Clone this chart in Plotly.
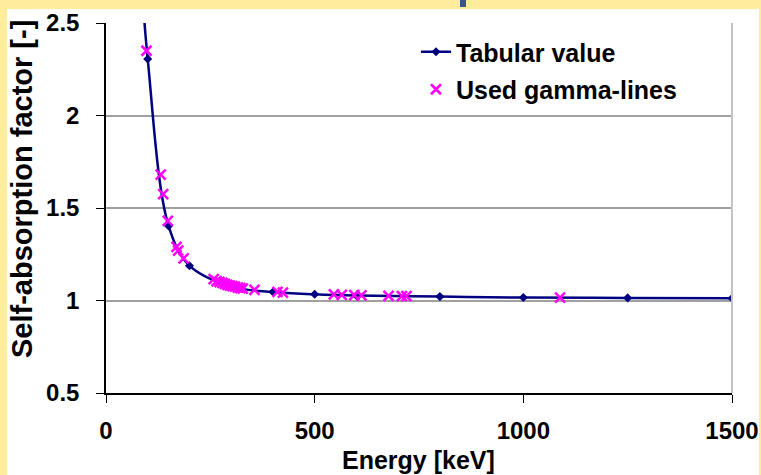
import plotly.graph_objects as go

# Tabulated self-absorption factors
energy_tab = [80, 100, 150, 200, 300, 400, 500, 600, 800, 1000, 1250, 1500]
factor_tab = [2.9, 2.305, 1.403, 1.188, 1.075, 1.046, 1.034, 1.027, 1.021, 1.016, 1.014, 1.012]

# Gamma lines used in the analysis
energy_gamma = [97, 131, 137, 148, 169, 173, 186,
                258, 265, 272, 279, 285, 291, 297, 303, 309, 316, 322, 328,
                356, 411, 424, 546, 565, 595, 612, 677, 709, 720, 1088]
factor_gamma = [2.35, 1.68, 1.575, 1.43, 1.29, 1.27, 1.228,
                1.115, 1.105, 1.10, 1.095, 1.09, 1.085, 1.08, 1.078, 1.075, 1.07, 1.067, 1.064,
                1.058, 1.046, 1.043, 1.033, 1.031, 1.029, 1.028, 1.025, 1.024, 1.024, 1.016]

x_ticks = [0, 500, 1000, 1500]
y_ticks = [0.5, 1, 1.5, 2, 2.5]

FONT = "Liberation Sans, Arial, sans-serif"
NAVY = "#000080"
MAGENTA = "#FF00FF"
YELLOW = "#FFEC9C"

fig = go.Figure()

fig.add_trace(go.Scatter(
    x=energy_tab, y=factor_tab, name="Tabular value",
    mode="lines+markers", legendgroup="tab",
    line=dict(color=NAVY, width=2.5, shape="spline", smoothing=1.0),
    marker=dict(symbol="diamond", size=7, color=NAVY),
))

fig.add_trace(go.Scatter(
    x=energy_gamma, y=factor_gamma, name="Used gamma-lines",
    mode="markers", legendgroup="gamma",
    marker=dict(symbol="x-thin", size=10, color=MAGENTA,
                line=dict(color=MAGENTA, width=2.5)),
))

W, H = 761, 475
L, R, T, B = 106, 29, 23, 82
pw, ph = W - L - R, H - T - B


def px_x(p):
    return (p - L) / pw


def px_y(p):
    return (H - B - p) / ph


fig.update_layout(
    width=W, height=H,
    margin=dict(l=L, r=R, t=T, b=B, pad=0, autoexpand=False),
    paper_bgcolor=YELLOW,
    plot_bgcolor="white",
    font=dict(family=FONT, color="black"),
    showlegend=True,
    legend=dict(
        x=px_x(416), y=px_y(29), xanchor="left", yanchor="top",
        bgcolor="rgba(0,0,0,0)",
        font=dict(family=FONT, size=25, color="black", weight="bold"),
        traceorder="grouped", tracegroupgap=2,
    ),
    xaxis=dict(
        range=[0, 1500], tickvals=x_ticks, automargin=False,
        showgrid=False, zeroline=False,
        showline=True, linecolor="black", linewidth=1.5,
        ticks="outside", ticklen=8, tickcolor="black",
        tickfont=dict(family=FONT, size=24, color="black", weight="bold"),
        ticklabelstandoff=7,
    ),
    yaxis=dict(
        range=[0.5, 2.5], tickvals=y_ticks, automargin=False,
        showgrid=True, gridcolor="#A0A0A0", gridwidth=1.5,
        zeroline=False,
        showline=True, linecolor="black", linewidth=1.5,
        ticks="outside", ticklen=8, tickcolor="black",
        tickfont=dict(family=FONT, size=24, color="black", weight="bold"),
        ticklabelstandoff=12,
    ),
    shapes=[
        # white slide area framed by the yellow border
        dict(type="rect", xref="paper", yref="paper", layer="below",
             x0=px_x(7), x1=px_x(759), y0=px_y(H + 20), y1=px_y(9),
             fillcolor="white", line=dict(width=0)),
        # right border of the plot area
        dict(type="line", xref="paper", yref="paper",
             x0=1, x1=1, y0=0, y1=1, line=dict(color="#C4C4C4", width=2)),
        # descender of the slide heading above the chart
        dict(type="rect", xref="paper", yref="paper",
             x0=px_x(460), x1=px_x(466), y0=px_y(7), y1=px_y(0),
             fillcolor="#33598A", line=dict(width=0)),
    ],
    annotations=[
        dict(text="Energy [keV]", xref="paper", yref="paper",
             x=px_x(418), y=px_y(460), xanchor="center", yanchor="middle",
             showarrow=False,
             font=dict(family=FONT, size=25, color="black", weight="bold")),
        dict(text="Self-absorption factor [-]", xref="paper", yref="paper",
             x=px_x(22), y=px_y(189), xanchor="center", yanchor="middle",
             textangle=-90, showarrow=False,
             font=dict(family=FONT, size=29, color="black", weight="bold")),
    ],
)

fig.write_html("out.html")
